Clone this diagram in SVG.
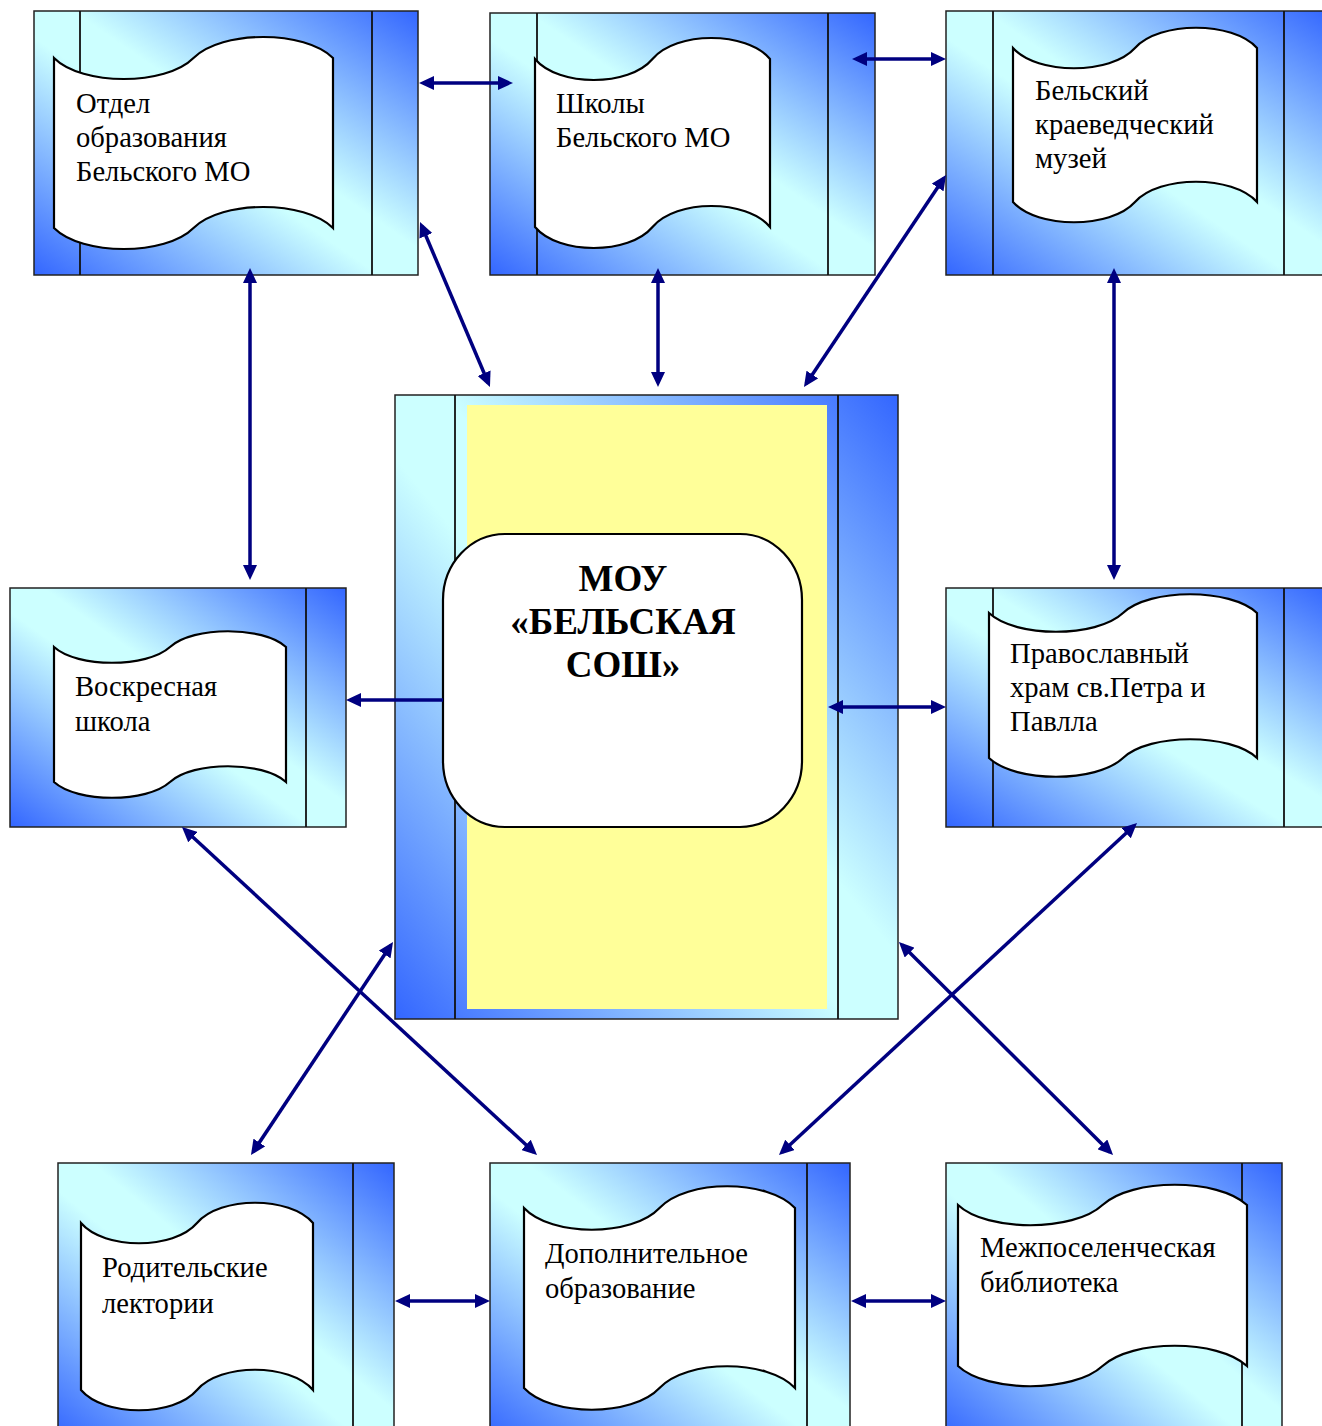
<svg xmlns="http://www.w3.org/2000/svg" width="1322" height="1426" viewBox="0 0 1322 1426">
<style>
.box{stroke:#222;stroke-width:1.5;fill:url(#gMain)}
.strip{stroke:#111;stroke-width:1.8;fill:none}
.scroll{fill:#fff;stroke:#000;stroke-width:2.2}
.lbl{font-family:"Liberation Serif","Times New Roman",serif;font-size:28.6px;fill:#000}
.title{font-family:"Liberation Serif","Times New Roman",serif;font-size:37px;font-weight:bold;fill:#000;text-anchor:middle}
.con{stroke:#000080;stroke-width:3.5;fill:none}
.c2{marker-start:url(#ah);marker-end:url(#ah)}
.c1{marker-end:url(#ah)}
</style>
<defs>
<linearGradient id="gMain" x1="1" y1="0" x2="0" y2="1">
<stop offset="0" stop-color="#3366FF"/>
<stop offset="0.45" stop-color="#CCFFFF"/>
<stop offset="0.55" stop-color="#CCFFFF"/>
<stop offset="1" stop-color="#3366FF"/>
</linearGradient>
<marker id="ah" viewBox="0 0 15 14" refX="11" refY="7" markerWidth="15" markerHeight="14" markerUnits="userSpaceOnUse" orient="auto-start-reverse">
<path d="M0,0 L15,7 L0,14 z" fill="#000080"/>
</marker>
</defs>
<rect width="1322" height="1426" fill="#fff"/>

<g id="node-otdel">
<rect class="box" x="34" y="11" width="384" height="264"/>
<line class="strip" x1="80" y1="11" x2="80" y2="275"/>
<line class="strip" x1="372" y1="11" x2="372" y2="275"/>
<path class="scroll" d="M54,58 C81.9,86 165.6,86 193.5,58 C221.4,30 305.1,30 333,58 L333,228 C305.1,200 221.4,200 193.5,228 C165.6,256 81.9,256 54,228 Z"/>
<text class="lbl" x="76" y="113">Отдел</text>
<text class="lbl" x="76" y="147">образования</text>
<text class="lbl" x="76" y="181">Бельского МО</text>
</g>

<g id="node-shkoly">
<rect class="box" x="490" y="13" width="385" height="262"/>
<line class="strip" x1="537" y1="13" x2="537" y2="275"/>
<line class="strip" x1="828" y1="13" x2="828" y2="275"/>
<path class="scroll" d="M535,59 C558.5,87 629,87 652.5,59 C676,31 746.5,31 770,59 L770,227 C746.5,199 676,199 652.5,227 C629,255 558.5,255 535,227 Z"/>
<text class="lbl" x="556" y="113">Школы</text>
<text class="lbl" x="556" y="147">Бельского МО</text>
</g>

<g id="node-muzei">
<rect class="box" x="946" y="11" width="384" height="264"/>
<line class="strip" x1="993" y1="11" x2="993" y2="275"/>
<line class="strip" x1="1284" y1="11" x2="1284" y2="275"/>
<path class="scroll" d="M1013,48 C1037.4,75 1110.6,75 1135,48 C1159.4,21 1232.6,21 1257,48 L1257,202 C1232.6,175 1159.4,175 1135,202 C1110.6,229 1037.4,229 1013,202 Z"/>
<text class="lbl" x="1035" y="100">Бельский</text>
<text class="lbl" x="1035" y="134">краеведческий</text>
<text class="lbl" x="1035" y="168">музей</text>
</g>

<g id="node-center">
<rect class="box" x="395" y="395" width="503" height="624"/>
<line class="strip" x1="455" y1="395" x2="455" y2="1019"/>
<line class="strip" x1="838" y1="395" x2="838" y2="1019"/>
<rect x="467" y="405" width="360" height="604" fill="#FFFF99"/>
<rect x="443" y="534" width="359" height="293" rx="62" ry="66" fill="#fff" stroke="#000" stroke-width="2.2"/>
<text class="title" x="623" y="591">МОУ</text>
<text class="title" x="623" y="634">«БЕЛЬСКАЯ</text>
<text class="title" x="623" y="677">СОШ»</text>
</g>

<g id="node-voskr">
<rect class="box" x="10" y="588" width="336" height="239"/>
<line class="strip" x1="306" y1="588" x2="306" y2="827"/>
<path class="scroll" d="M54,647 C77.2,668 146.8,668 170,647 C193.2,626 262.8,626 286,647 L286,782 C262.8,761 193.2,761 170,782 C146.8,803 77.2,803 54,782 Z"/>
<text class="lbl" x="75" y="696">Воскресная</text>
<text class="lbl" x="75" y="731">школа</text>
</g>

<g id="node-hram">
<rect class="box" x="946" y="588" width="384" height="239"/>
<line class="strip" x1="993" y1="588" x2="993" y2="827"/>
<line class="strip" x1="1284" y1="588" x2="1284" y2="827"/>
<path class="scroll" d="M989,613 C1015.8,638 1096.2,638 1123,613 C1149.8,588 1230.2,588 1257,613 L1257,758 C1230.2,733 1149.8,733 1123,758 C1096.2,783 1015.8,783 989,758 Z"/>
<text class="lbl" x="1010" y="663">Православный</text>
<text class="lbl" x="1010" y="697">храм св.Петра и</text>
<text class="lbl" x="1010" y="731">Павлла</text>
</g>

<g id="node-roditel">
<rect class="box" x="58" y="1163" width="336" height="275"/>
<line class="strip" x1="353" y1="1163" x2="353" y2="1438"/>
<path class="scroll" d="M81,1223 C104.2,1250 173.8,1250 197,1223 C220.2,1196 289.8,1196 313,1223 L313,1390 C289.8,1363 220.2,1363 197,1390 C173.8,1417 104.2,1417 81,1390 Z"/>
<text class="lbl" x="102" y="1277">Родительские</text>
<text class="lbl" x="102" y="1313">лектории</text>
</g>

<g id="node-dopoln">
<rect class="box" x="490" y="1163" width="360" height="275"/>
<line class="strip" x1="807" y1="1163" x2="807" y2="1438"/>
<path class="scroll" d="M524,1208 C551.1,1237 632.4,1237 659.5,1208 C686.6,1179 767.9,1179 795,1208 L795,1388 C767.9,1359 686.6,1359 659.5,1388 C632.4,1417 551.1,1417 524,1388 Z"/>
<text class="lbl" x="545" y="1263">Дополнительное</text>
<text class="lbl" x="545" y="1298">образование</text>
</g>

<g id="node-biblio">
<rect class="box" x="946" y="1163" width="336" height="275"/>
<line class="strip" x1="1242" y1="1163" x2="1242" y2="1438"/>
<path class="scroll" d="M958,1205 C986.9,1232 1073.6,1232 1102.5,1205 C1131.4,1178 1218.1,1178 1247,1205 L1247,1366 C1218.1,1339 1131.4,1339 1102.5,1366 C1073.6,1393 986.9,1393 958,1366 Z"/>
<text class="lbl" x="980" y="1257">Межпоселенческая</text>
<text class="lbl" x="980" y="1292">библиотека</text>
</g>

<g id="connectors">
<line class="con c2" x1="423" y1="83" x2="509" y2="83"/>
<line class="con c2" x1="856" y1="59" x2="942" y2="59"/>
<line class="con c2" x1="250" y1="272" x2="250" y2="576"/>
<line class="con c2" x1="421.6" y1="225.7" x2="488.4" y2="383.3"/>
<line class="con c2" x1="658" y1="272" x2="658" y2="383"/>
<line class="con c2" x1="943.8" y1="178.3" x2="806.2" y2="383.7"/>
<line class="con c2" x1="1114" y1="272" x2="1114" y2="576"/>
<line class="con c1" x1="443" y1="700" x2="350" y2="700"/>
<line class="con c2" x1="832" y1="707" x2="942" y2="707"/>
<line class="con c2" x1="184.9" y1="829.7" x2="534.1" y2="1152.3"/>
<line class="con c2" x1="390.8" y1="945.3" x2="253.2" y2="1151.7"/>
<line class="con c2" x1="1134.1" y1="825.7" x2="781.9" y2="1152.3"/>
<line class="con c2" x1="901.8" y1="944.8" x2="1110.2" y2="1152.2"/>
<line class="con c2" x1="399" y1="1301" x2="486" y2="1301"/>
<line class="con c2" x1="855" y1="1301" x2="942" y2="1301"/>
</g>
</svg>
